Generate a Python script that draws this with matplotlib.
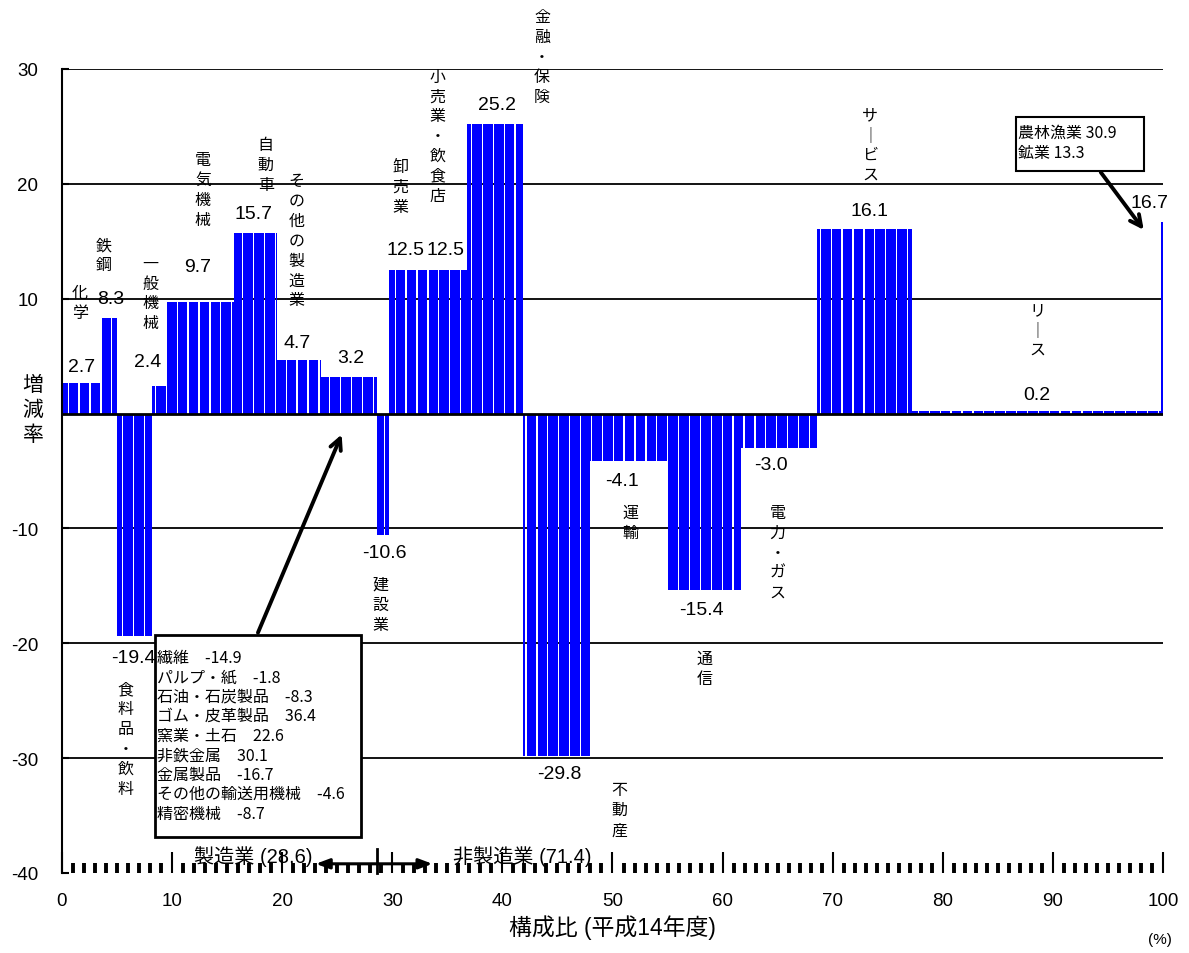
import numpy as np
import matplotlib
matplotlib.use('Agg')
import matplotlib.pyplot as plt
from matplotlib.patches import Rectangle

plt.rcParams['font.family'] = ['Liberation Sans', 'Noto Sans CJK JP']
plt.rcParams['axes.unicode_minus'] = False

# 業種 / 構成比(%) / 増減率(%)
sectors = ['化学', '鉄鋼', '食料品・飲料', '一般機械', '電気機械', '自動車',
           'その他の製造業', 'その他', '建設業', '卸売業', '小売業・飲食店',
           '金融・保険', '不動産', '運輸', '通信', '電力・ガス', 'サービス',
           'リース', '農林漁業・鉱業']
share = [3.5, 1.5, 3.2, 1.3, 6.1, 3.9, 4.0, 5.1, 1.1, 2.9, 4.2, 5.1, 6.1,
         7.0, 6.7, 6.9, 8.6, 22.6, 0.2]
growth = [2.7, 8.3, -19.4, 2.4, 9.7, 15.7, 4.7, 3.2, -10.6, 12.5, 12.5,
          25.2, -29.8, -4.1, -15.4, -3.0, 16.1, 0.2, 16.7]

# 縦書きラベル (｜ = 長音)
name_labels = ['化学', '鉄鋼', '食料品・飲料', '一般機械', '電気機械', '自動車',
               'その他の製造業', '', '建設業', '卸売業', '小売業・飲食店',
               '金融・保険', '不動産', '運輸', '通信', '電力・ガス', 'サ｜ビス',
               'リ｜ス', '']

other_manu = ['繊維　-14.9', 'パルプ・紙　-1.8', '石油・石炭製品　-8.3',
              'ゴム・皮革製品　36.4', '窯業・土石　22.6', '非鉄金属　30.1',
              '金属製品　-16.7', 'その他の輸送用機械　-4.6', '精密機械　-8.7']
primary = ['農林漁業 30.9', '鉱業 13.3']
manu_total = 28.6
nonmanu_total = 71.4

# ラベル位置 (x, y)
value_pos = [(1.8, 4.1), (4.4, 10.0), (6.5, -21.2), (7.8, 4.5), (12.3, 12.8),
             (17.4, 17.4), (21.4, 6.2), (26.2, 4.9), (29.3, -12.1),
             (31.2, 14.3), (34.8, 14.3), (39.5, 26.9), (45.2, -31.3),
             (50.9, -5.8), (58.1, -17.1), (64.4, -4.4), (73.3, 17.7),
             (88.5, 1.7), (98.8, 18.4)]
name_pos = [(1.6, 9.7), (3.8, 13.8), (5.8, -28.3), (8.0, 10.5), (12.8, 19.5),
            (18.5, 21.7), (21.3, 15.1), None, (28.9, -16.6), (30.7, 19.8),
            (34.1, 24.2), (43.6, 31.1), (50.6, -34.5), (51.6, -9.5),
            (58.4, -22.2), (65.0, -12.1), (73.4, 23.4), (88.6, 7.3), None]

blue = '#0000ff'

fig = plt.figure(figsize=(11.89, 9.54), dpi=100)
ax = fig.add_axes([0.05214, 0.08386, 0.92599, 0.84277])

# 0.1%刻みの細い棒で描く(元のExcel風の縞)
left = np.concatenate([[0], np.cumsum(share)[:-1]])
for l, w, v in zip(left, share, growth):
    n = int(round(w / 0.1))
    xs = l + 0.1 * np.arange(n)
    ax.bar(xs, v, width=0.088, align='edge', color=blue, linewidth=0)

ax.set_xlim(0, 100)
ax.set_ylim(-40, 30)
for yv in [-30, -20, -10, 10, 20, 30]:
    ax.axhline(yv, color='black', lw=1.3, zorder=0)
ax.axhline(0, color='black', lw=2, zorder=3)

ax.spines['top'].set_visible(False)
ax.spines['right'].set_visible(False)
ax.spines['bottom'].set_visible(False)
ax.spines['left'].set_linewidth(1.5)

ax.set_xticks(np.arange(0, 101, 10))
ax.set_xticks(np.arange(0, 101, 1), minor=True)
ax.set_yticks([-40, -30, -20, -10, 10, 20, 30])
ax.set_yticklabels(['-40', '-30', '-20', '-10', '10', '20', '30'])
ax.tick_params(axis='x', which='major', direction='in', length=15, width=1.5,
               labelsize=13.5, pad=14)
ax.tick_params(axis='x', which='minor', direction='in', length=7, width=2.8)
ax.tick_params(axis='y', direction='in', length=5, width=1.5, labelsize=13.5,
               pad=17)

for v, (x, y) in zip(growth, value_pos):
    ax.text(x, y, f'{v:.1f}', ha='center', va='center', fontsize=14)

for s, p in zip(name_labels, name_pos):
    if p is None or not s:
        continue
    ax.text(p[0], p[1], '\n'.join(s), ha='center', va='center', fontsize=11.5,
            linespacing=1.22, family='Noto Sans CJK JP')

# その他製造業の内訳
ax.add_patch(Rectangle((8.45, -36.86), 18.71, 17.58, fill=True, lw=2,
                       edgecolor='black', facecolor='white', clip_on=False, zorder=5))
for i, s in enumerate(other_manu):
    ax.text(8.63, -21.2 - 1.7 * i, s, ha='left', va='center', fontsize=11.5,
            family='Noto Sans CJK JP', zorder=6)
ax.annotate('', xy=(25.5, -1.6), xytext=(17.7, -19.3),
            arrowprops=dict(arrowstyle='->,head_length=0.8,head_width=0.4',
                            lw=2.8, color='black'), zorder=6)

# 農林漁業・鉱業
ax.add_patch(Rectangle((86.65, 21.12), 11.62, 4.7, fill=True, lw=1.5,
                       edgecolor='black', facecolor='white', clip_on=False, zorder=5))
for i, s in enumerate(primary):
    ax.text(86.83, 24.5 - 1.75 * i, s, ha='left', va='center', fontsize=11.5,
            family='Noto Sans CJK JP', zorder=6)
ax.annotate('', xy=(98.4, 15.8), xytext=(94.2, 21.2),
            arrowprops=dict(arrowstyle='->,head_length=0.8,head_width=0.4',
                            lw=2.8, color='black'), zorder=6)

# 製造業 / 非製造業
ax.plot([manu_total, manu_total], [-37.9, -40], color='black', lw=2,
        clip_on=False)
ax.annotate('', xy=(22.8, -39.2), xytext=(33.9, -39.2),
            arrowprops=dict(arrowstyle='<|-|>,head_length=0.8,head_width=0.3',
                            lw=2.2, color='black'), zorder=6)
ax.text(17.35, -38.5, f'製造業 ({manu_total})', ha='center', va='center',
        fontsize=14.5)
ax.text(41.8, -38.5, f'非製造業 ({nonmanu_total})', ha='center', va='center',
        fontsize=14.5)

fig.text(33 / 1189, 1 - 410 / 954, '増\n減\n率', ha='center', va='center',
         fontsize=15, linespacing=1.15, family='Noto Sans CJK JP')
fig.text(612 / 1189, 1 - 928 / 954, '構成比 (平成14年度)', ha='center',
         va='center', fontsize=16.5)
fig.text(1160 / 1189, 1 - 940 / 954, '(%)', ha='center', va='center',
         fontsize=11)

fig.savefig('out.png', dpi=100)
